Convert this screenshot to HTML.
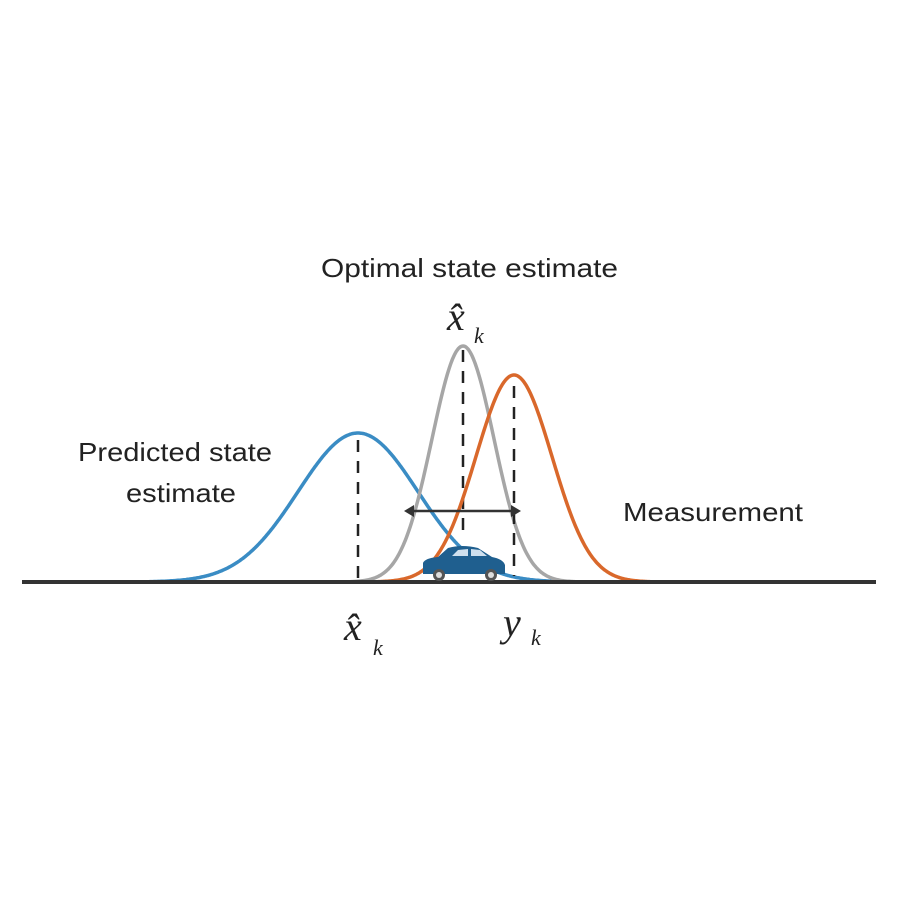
<!DOCTYPE html>
<html><head><meta charset="utf-8"><style>
html,body{margin:0;padding:0;background:#fff;width:898px;height:898px;overflow:hidden}
text{font-family:"Liberation Sans",sans-serif;fill:#222}
.m{font-family:"Liberation Serif",serif;font-style:italic}
</style></head><body>
<svg width="898" height="898" viewBox="0 0 898 898">
<g id="curves"></g>
<line x1="22" y1="582" x2="876" y2="582" stroke="#333" stroke-width="4"/>
<g>
<path d="M423,574 L423,563 Q425,558 438,557 L448,548 Q462,544 478,548 L492,557 Q503,559 505,565 L505,574 Z" fill="#1f5f8f"/>
<path d="M452,556 L458,550 L468,549 L468,556 Z M471,549 L480,550 L487,556 L471,556 Z" fill="#cfe0ee"/>
<circle cx="439" cy="575" r="6" fill="#555"/><circle cx="439" cy="575" r="3" fill="#ddd"/>
<circle cx="491" cy="575" r="6" fill="#555"/><circle cx="491" cy="575" r="3" fill="#ddd"/>
</g>
<line x1="411" y1="511" x2="514" y2="511" stroke="#333" stroke-width="2.5"/>
<path d="M404,511 L414,505 L414,517 Z M521,511 L511,505 L511,517 Z" fill="#333"/>
<text x="321" y="277" font-size="26" textLength="297" lengthAdjust="spacingAndGlyphs">Optimal state estimate</text>
<text x="447" y="330" font-size="40" class="m">x̂</text><text x="474" y="343" font-size="22" class="m">k</text>
<text x="78" y="461" font-size="26" textLength="194" lengthAdjust="spacingAndGlyphs">Predicted state</text>
<text x="126" y="502" font-size="26" textLength="110" lengthAdjust="spacingAndGlyphs">estimate</text>
<text x="623" y="521" font-size="26" textLength="180" lengthAdjust="spacingAndGlyphs">Measurement</text>
<text x="344" y="640" font-size="40" class="m">x̂</text><text x="373" y="655" font-size="22" class="m">k</text>
<text x="503" y="636" font-size="40" class="m">y</text><text x="531" y="645" font-size="22" class="m">k</text>
</svg>
<script>
const seriesNames=['predicted','optimal','measurement'];
const means=[358,463,514];
const sigmas=[60,31,38];
const heights=[149,236,207];
const colors=['#3a8cc4','#a6a6a6','#d9682b'];
const dashTops=[440,350,386];
const dashBottoms=[582,532,576];
const base=582;
const g=document.getElementById('curves');
const ns='http://www.w3.org/2000/svg';
for(let i=0;i<means.length;i++){
  let d='';
  for(let x=means[i]-3.7*sigmas[i];x<=means[i]+3.7*sigmas[i];x+=1){
    const y=base-heights[i]*Math.exp(-0.5*((x-means[i])/sigmas[i])**2);
    d+=(d?'L':'M')+x.toFixed(1)+','+y.toFixed(1);
  }
  const p=document.createElementNS(ns,'path');
  p.setAttribute('d',d);p.setAttribute('fill','none');
  p.setAttribute('stroke',colors[i]);p.setAttribute('stroke-width','3.5');
  
  
  g.appendChild(p);
  const l=document.createElementNS(ns,'line');
  l.setAttribute('x1',means[i]);l.setAttribute('x2',means[i]);
  l.setAttribute('y1',dashTops[i]);l.setAttribute('y2',dashBottoms[i]);
  l.setAttribute('stroke','#222');l.setAttribute('stroke-width','2.5');
  l.setAttribute('stroke-dasharray','12,9');
  
  
  g.appendChild(l);
}
</script>
</body></html>
